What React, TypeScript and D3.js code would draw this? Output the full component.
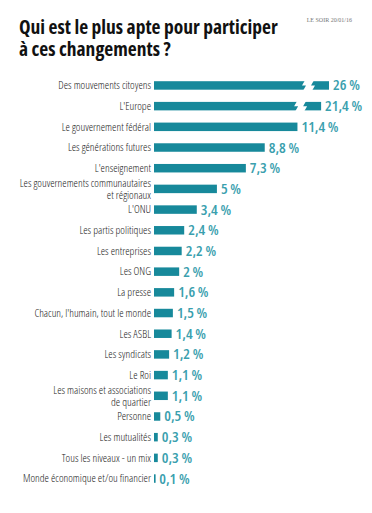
import { useEffect, useRef } from "react";
import * as d3 from "d3";

const categories = [
  "Des mouvements citoyens",
  "L'Europe",
  "Le gouvernement fédéral",
  "Les générations futures",
  "L'enseignement",
  "Les gouvernements communautaires|et régionaux",
  "L'ONU",
  "Les partis politiques",
  "Les entreprises",
  "Les ONG",
  "La presse",
  "Chacun, l'humain, tout le monde",
  "Les ASBL",
  "Les syndicats",
  "Le Roi",
  "Les maisons et associations|de quartier",
  "Personne",
  "Les mutualités",
  "Tous les niveaux - un mix",
  "Monde économique et/ou financier",
];

const values = [26, 21.4, 11.4, 8.8, 7.3, 5, 3.4, 2.4, 2.2, 2, 1.6, 1.5, 1.4, 1.2, 1.1, 1.1, 0.5, 0.3, 0.3, 0.1];

// bars above this value are drawn broken
const breakValue = 12;

const BAR = "#17899b";
const VALUE = "#3aa0ae";
const FONT = "'Open Sans', sans-serif";

export default function App() {
  const svgRef = useRef<SVGSVGElement>(null);

  useEffect(() => {
    if (!svgRef.current) return;
    const width = 372;
    const height = 513;
    const svg = d3.select(svgRef.current);
    svg.selectAll("*").remove();
    svg.attr("width", width).attr("height", height).style("font-stretch", "condensed");

    svg.append("rect").attr("width", width).attr("height", height).attr("fill", "#fff");

    // title
    const title = svg
      .append("text")
      .attr("font-family", FONT)
      .attr("font-weight", "bold")
      .attr("font-size", 19.5)
      .attr("fill", "#111");
    title.append("tspan").attr("x", 19).attr("y", 34).text("Qui est le plus apte pour participer");
    title.append("tspan").attr("x", 19).attr("y", 56).text("à ces changements ?");

    svg
      .append("text")
      .attr("x", 352)
      .attr("y", 22)
      .attr("text-anchor", "end")
      .attr("font-family", "'Liberation Serif', serif")
      .attr("font-size", 6)
      .attr("fill", "#777")
      .text("LE SOIR 20/01/16");

    const x = d3
      .scaleLinear()
      .domain([0, breakValue, 26])
      .range([154, 305, 329]);

    const y = d3
      .scaleBand<string>()
      .domain(categories)
      .range([75, 489])
      .paddingInner(0.59)
      .paddingOuter(0.3);

    const data = categories.map((c, i) => ({ cat: c, value: values[i] }));

    const row = svg
      .append("g")
      .selectAll("g")
      .data(data)
      .enter()
      .append("g")
      .attr("transform", (d) => `translate(0,${y(d.cat)! + y.bandwidth() / 2})`);

    const bh = y.bandwidth();

    row
      .append("rect")
      .attr("x", x(0))
      .attr("y", -bh / 2)
      .attr("width", (d) => Math.max(1.6, x(d.value) - x(0)))
      .attr("height", bh)
      .attr("fill", BAR);

    // zigzag break on long bars
    row
      .filter((d) => d.value > breakValue)
      .append("path")
      .attr("d", (d) => {
        const c = x(d.value) - 23;
        const t = -bh / 2 - 1;
        const b = bh / 2 + 1;
        return `M${c - 1},${t} L${c - 4},0 L${c},0 L${c - 3},${b} L${c + 6},${b} L${c + 9},0 L${c + 5},0 L${c + 8},${t} Z`;
      })
      .attr("fill", "#fff");

    // category labels
    row
      .append("text")
      .attr("x", x(0) - 3)
      .attr("text-anchor", "end")
      .attr("font-family", FONT)
      .attr("font-weight", 300)
      .attr("font-size", 11)
      .attr("fill", "#222")
      .each(function (d) {
        const lines = d.cat.split("|");
        const t = d3.select(this);
        lines.forEach((line, i) => {
          t.append("tspan")
            .attr("x", x(0) - 3)
            .attr("y", (i - (lines.length - 1) / 2) * 12 + 3.8)
            .text(line);
        });
      });

    // value labels
    row
      .append("text")
      .attr("x", (d) => x(d.value) + 4)
      .attr("y", 5)
      .attr("font-family", FONT)
      .attr("font-weight", 600)
      .attr("font-size", 15)
      .attr("fill", VALUE)
      .text((d) => `${d3.format("~r")(d.value).replace(".", ",")} %`);
  }, []);

  return <svg ref={svgRef} style={{ position: "absolute", left: 0, top: 0, display: "block" }} />;
}
